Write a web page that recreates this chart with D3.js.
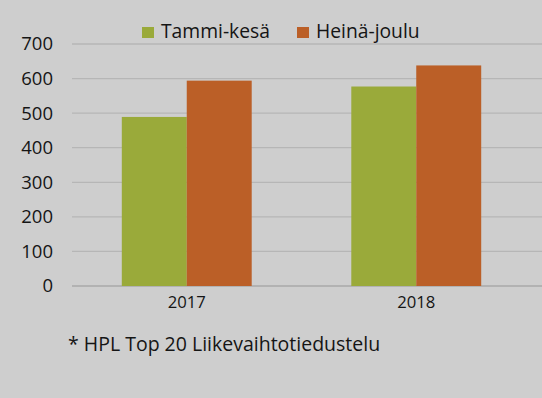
<!DOCTYPE html>
<html><head><meta charset="utf-8">
<script src="https://cdn.jsdelivr.net/npm/d3@7"></script>
<style>html,body{margin:0;padding:0;background:#cecece;}svg{display:block;}</style>
</head><body>
<script>
const categories = ["2017", "2018"];
const seriesNames = ["Tammi-kesä", "Heinä-joulu"];
const tammiKesa = [489, 577];
const heinaJoulu = [594, 638];
const yTicks = [0, 100, 200, 300, 400, 500, 600, 700];
const footnote = "* HPL Top 20 Liikevaihtotiedustelu";
const colors = ["#9aaa3a", "#bb5f27"];

const W = 542, H = 398;
const font = "'Open Sans', sans-serif";
const svg = d3.select("body").append("svg").attr("width", W).attr("height", H);
svg.append("rect").attr("width", W).attr("height", H).attr("fill", "#cecece");

const x0 = d3.scaleBand().domain(categories).range([72, 531]).paddingInner(0.434).paddingOuter(0.217);
const x1 = d3.scaleBand().domain(seriesNames).range([0, x0.bandwidth()]);
const y = d3.scaleLinear().domain([0, 700]).range([286, 44]);

// gridlines
svg.append("g").selectAll("line").data(yTicks).join("line")
  .attr("x1", 72).attr("x2", W).attr("y1", d => y(d)).attr("y2", d => y(d))
  .attr("stroke", d => d === 0 ? "#a8a8a8" : "#b6b6b6").attr("stroke-width", 1.3);

// y axis labels
const yAxis = d3.axisLeft(y).tickValues(yTicks).tickSize(0).tickPadding(0);
const gy = svg.append("g").attr("transform", "translate(53,0)").call(yAxis);
gy.select(".domain").remove();
gy.selectAll("text").attr("font-family", font).attr("font-size", 18.5).attr("fill", "#151515");

// bars
const data = categories.map((c, i) => ({cat: c, vals: [tammiKesa[i], heinaJoulu[i]]}));
const groups = svg.append("g").selectAll("g").data(data).join("g")
  .attr("transform", d => `translate(${x0(d.cat)},0)`);
groups.selectAll("rect").data(d => d.vals.map((v, j) => ({name: seriesNames[j], v, j})))
  .join("rect")
  .attr("x", d => x1(d.name)).attr("width", x1.bandwidth())
  .attr("y", d => y(d.v)).attr("height", d => y(0) - y(d.v))
  .attr("fill", d => colors[d.j]);

// x axis labels
const xAxis = d3.axisBottom(x0).tickSize(0).tickPadding(0);
const gx = svg.append("g").attr("transform", "translate(0,296)").call(xAxis);
gx.select(".domain").remove();
gx.selectAll("text").attr("font-family", font).attr("font-size", 16.7).attr("fill", "#151515");

// legend
const legendX = [142, 297];
const lg = svg.append("g").selectAll("g").data(seriesNames).join("g")
  .attr("transform", (d, i) => `translate(${legendX[i]},0)`);
lg.append("rect").attr("x", 0).attr("y", 27).attr("width", 12).attr("height", 11)
  .attr("fill", (d, i) => colors[i]);
lg.append("text").attr("x", 19).attr("y", 38).text(d => d)
  .attr("font-family", font).attr("font-size", 19.3).attr("fill", "#151515");

// footnote
svg.append("text").attr("x", 68).attr("y", 351).text(footnote)
  .attr("font-family", font).attr("font-size", 19.5).attr("fill", "#151515");
</script>
</body></html>
